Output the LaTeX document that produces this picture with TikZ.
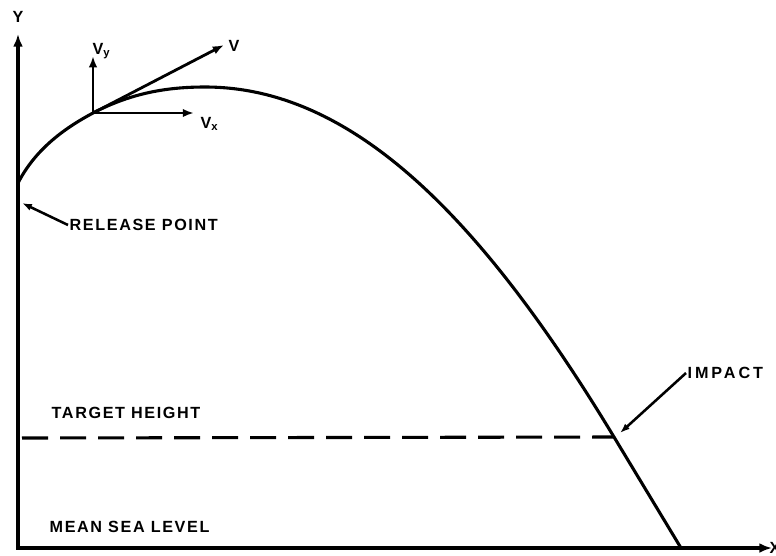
\documentclass[tikz,border=0pt]{standalone}
\usepackage{fontspec}
\newfontfamily\lblfont[LetterSpace=10]{Liberation Sans}
\newfontfamily\widefont[LetterSpace=18]{Liberation Sans}
\usetikzlibrary{arrows.meta}

\begin{document}
\begin{tikzpicture}[
    x=0.025cm, y=-0.025cm,
    axis/.style={line width=2.4pt, {Latex[length=9pt,width=7pt]}-{Latex[length=9pt,width=7pt]}},
    vec/.style={line width=2pt, -{Latex[length=8pt,width=6pt]}},
    traj/.style={line width=2.2pt, line join=round},
    ptr/.style={line width=1.8pt, -{Latex[length=7pt,width=5pt]}},
    lbl/.style={font=\lblfont\bfseries\fontsize{11.5}{13}\selectfont, inner sep=1pt},
    wlbl/.style={font=\widefont\bfseries\fontsize{11.5}{13}\selectfont, inner sep=1pt}
]
    \useasboundingbox (0,0) rectangle (776,555);

    % axes
    \coordinate (O) at (18,548);
    \coordinate (ytip) at (18,34);
    \coordinate (xtip) at (772,548);
    \draw[axis] (ytip) -- (O) -- (xtip);
    \node[lbl] (ylab) at (18,17) {Y};
    \node[lbl, anchor=west] (xlab) at (768,548) {X};

    % trajectory
    \coordinate (rel) at (18,183);
    \coordinate (vp) at (93,113);
    \coordinate (peak) at (205,87);
    \coordinate (imp) at (614,437);
    \coordinate (gnd) at (681,548);
    \draw[traj] (rel) .. controls (35,150) and (63,129) .. (vp)
        .. controls (133,92) and (170,87) .. (peak)
        .. controls (355,87) and (484,222) .. (imp) -- (gnd);

    % velocity components
    \coordinate (vytip) at (93,56);
    \coordinate (vxtip) at (194,113);
    \coordinate (vtip) at (224,45);
    \draw[vec] (vp) -- (vytip);
    \draw[vec] (vp) -- (vxtip);
    \draw[vec] (vp) -- (vtip);
    \node[lbl, anchor=base west] (vylab) at (91,54) {V\textsubscript{y}};
    \node[lbl] (vlab) at (234,46) {V};
    \node[lbl, anchor=base west] (vxlab) at (199,128) {V\textsubscript{x}};

    % release point
    \coordinate (relpt) at (22,203);
    \node[lbl, anchor=west] (rellab) at (68,225) {RELEASE POINT};
    \draw[ptr] (rellab.west) -- (relpt);

    % target height
    \coordinate (tgt) at (22,438);
    \draw[line width=2.2pt, dash pattern=on 0.65cm off 0.3cm] (tgt) -- (imp);
    \node[lbl, anchor=west] (tgtlab) at (50,413) {TARGET HEIGHT};

    % impact
    \coordinate (imppt) at (620,433);
    \node[wlbl, anchor=west] (implab) at (686,373) {IMPACT};
    \draw[ptr] (implab.west) -- (imppt);

    \node[lbl, anchor=west] (msl) at (48,527) {MEAN SEA LEVEL};
\end{tikzpicture}
\end{document}
